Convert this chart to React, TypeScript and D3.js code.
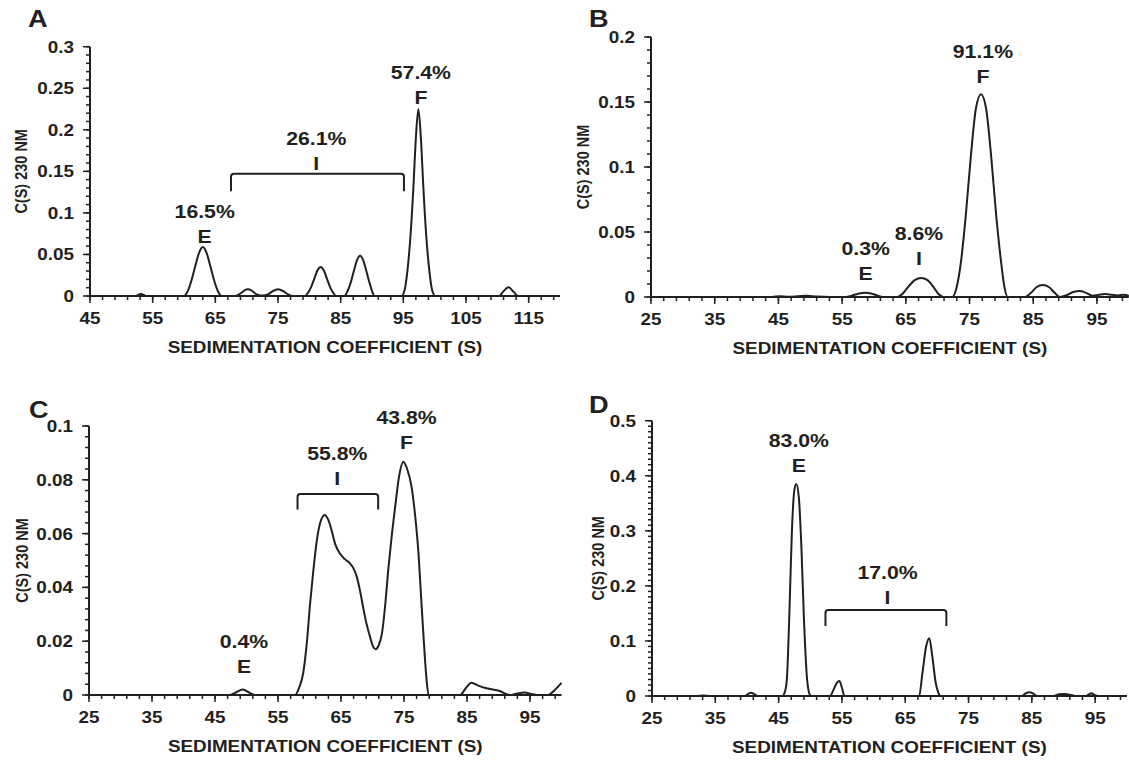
import React from "react";
import * as d3 from "d3";

// c(s) distributions, [s, c(s)] pairs
const curveA: [number, number][] = [
  [45, 0], [52.3, 0], [53.1, 0.0025], [54, 0], [60.0, 0], [60.6, 0.006], [61.2, 0.019], [61.8, 0.036],
  [62.4, 0.052], [63.0, 0.059], [63.6, 0.052], [64.2, 0.036], [64.8, 0.019], [65.4, 0.006], [66.0, 0],
  [68.2, 0], [69.0, 0.003], [69.6, 0.0065], [70.2, 0.008], [70.8, 0.0065], [71.6, 0.002], [72.6, 0.0005],
  [73.4, 0.002], [74.2, 0.006], [75.0, 0.008], [75.8, 0.006], [76.6, 0.002], [77.3, 0], [79.3, 0],
  [79.8, 0.004], [80.3, 0.011], [80.8, 0.021], [81.3, 0.031], [81.8, 0.035], [82.3, 0.031], [82.8, 0.021],
  [83.3, 0.011], [83.8, 0.004], [84.3, 0], [85.6, 0], [86.1, 0.006], [86.6, 0.016], [87.1, 0.03],
  [87.6, 0.043], [88.1, 0.0485], [88.6, 0.043], [89.1, 0.03], [89.6, 0.016], [90.0, 0.006], [90.4, 0],
  [94.7, 0], [95.2, 0.007], [95.6, 0.027], [96.1, 0.068], [96.6, 0.13], [97.0, 0.19], [97.4, 0.225],
  [97.8, 0.19], [98.2, 0.13], [98.7, 0.068], [99.2, 0.027], [99.6, 0.007], [100.1, 0], [110.3, 0],
  [110.9, 0.005], [111.8, 0.0105], [112.6, 0.005], [113.3, 0], [120, 0],
];

const curveB: [number, number][] = [
  [25, 0], [44, 0], [45.2, 0.0006], [46.5, 0.0002], [48, 0.0005], [49.4, 0.0009], [51, 0.0003], [53, 0],
  [55.6, 0], [56.5, 0.001], [57.5, 0.0025], [58.6, 0.0033], [59.7, 0.0025], [60.6, 0.001], [61.4, 0],
  [63.7, 0], [64.5, 0.0025], [65.4, 0.008], [66.4, 0.013], [67.4, 0.0147], [68.4, 0.013], [69.3, 0.008],
  [70.1, 0.0025], [70.9, 0], [72.3, 0], [72.9, 0.006], [73.6, 0.025], [74.4, 0.062], [75.2, 0.108],
  [76.0, 0.145], [76.8, 0.156], [77.6, 0.145], [78.4, 0.108], [79.2, 0.062], [80.0, 0.025], [80.5, 0.007],
  [81.0, 0], [83.6, 0], [84.6, 0.003], [85.5, 0.0075], [86.5, 0.0092], [87.5, 0.0075], [88.4, 0.003],
  [89.2, 0], [90.3, 0.0015], [91.3, 0.0038], [92.3, 0.0046], [93.3, 0.0032], [94.3, 0.001], [95.2, 0.0016],
  [96.3, 0.0023], [97.3, 0.0017], [98.3, 0.0012], [99.2, 0.0018], [100, 0.001],
];

const curveC: [number, number][] = [
  [25, 0], [47.3, 0], [48.2, 0.0008], [49.4, 0.002], [50.5, 0.0008], [51.4, 0], [57.7, 0], [58.4, 0.003],
  [59.0, 0.0081], [59.6, 0.02], [60.1, 0.0341], [60.6, 0.046], [61.1, 0.0564], [61.7, 0.064], [62.4, 0.0669],
  [63.0, 0.065], [63.5, 0.0613], [64.1, 0.056], [64.8, 0.0527], [65.6, 0.0505], [66.4, 0.049], [67.0, 0.047],
  [67.5, 0.044], [68.0, 0.039], [68.5, 0.0328], [69.0, 0.027], [69.6, 0.0217], [70.1, 0.018], [70.5, 0.017],
  [71.0, 0.0185], [71.5, 0.0229], [72.0, 0.033], [72.5, 0.0465], [73.0, 0.058], [73.6, 0.07], [74.2, 0.081],
  [74.9, 0.0867], [75.5, 0.084], [76.2, 0.0774], [76.8, 0.066], [77.3, 0.0527], [77.7, 0.037], [78.1, 0.0217],
  [78.5, 0.008], [78.9, 0], [83.9, 0], [84.8, 0.0025], [85.7, 0.0046], [86.8, 0.0035], [88.1, 0.0025],
  [90.2, 0.0015], [91.8, 0], [93.0, 0.0006], [94.2, 0.0009], [95.2, 0.0004], [96.1, 0], [97.9, 0],
  [98.9, 0.0018], [100, 0.0045],
];

const curveD: [number, number][] = [
  [25, 0], [32, 0], [33.1, 0.001], [34.2, 0], [39.7, 0], [40.2, 0.004], [40.6, 0.006], [41.1, 0.004],
  [41.7, 0], [45.6, 0], [46.0, 0.008], [46.3, 0.03], [46.7, 0.15], [47.1, 0.3], [47.5, 0.375], [47.8, 0.385],
  [48.2, 0.36], [48.6, 0.27], [49.0, 0.14], [49.5, 0.03], [49.9, 0.003], [50.1, 0], [53.1, 0], [53.7, 0.012],
  [54.2, 0.024], [54.6, 0.0272], [55.0, 0.015], [55.4, 0], [67.2, 0], [67.7, 0.04], [68.3, 0.09],
  [68.8, 0.105], [69.3, 0.07], [69.8, 0.025], [70.2, 0.007], [70.6, 0], [83.4, 0], [84.0, 0.0045],
  [84.6, 0.0067], [85.2, 0.0045], [85.8, 0], [88.4, 0], [89.3, 0.003], [90.2, 0.0036], [91.2, 0.002],
  [92.1, 0], [93.6, 0], [94.0, 0.003], [94.4, 0.005], [94.9, 0.002], [95.4, 0], [100, 0],
];

// peak annotations: percentage over species letter (s, c of the letter baseline)
type Note = { pct: string; letter: string; s: number; c: number };
const notesA: Note[] = [
  { pct: "57.4%", letter: "F", s: 97.8, c: 0.231 },
  { pct: "26.1%", letter: "I", s: 81.1, c: 0.1516 },
  { pct: "16.5%", letter: "E", s: 63.3, c: 0.0638 },
];
const notesB: Note[] = [
  { pct: "91.1%", letter: "F", s: 77.1, c: 0.1646 },
  { pct: "8.6%", letter: "I", s: 67.05, c: 0.0246 },
  { pct: "0.3%", letter: "E", s: 58.7, c: 0.0131 },
];
const notesC: Note[] = [
  { pct: "43.8%", letter: "F", s: 75.4, c: 0.0914 },
  { pct: "55.8%", letter: "I", s: 64.4, c: 0.0781 },
  { pct: "0.4%", letter: "E", s: 49.6, c: 0.0082 },
];
const notesD: Note[] = [
  { pct: "83.0%", letter: "E", s: 48.2, c: 0.4074 },
  { pct: "17.0%", letter: "I", s: 62.2, c: 0.1665 },
];

type Bracket = { from: number; to: number; top: number; bottom: number };
const bracketA: Bracket = { from: 67.5, to: 95.1, top: 0.147, bottom: 0.126 };
const bracketC: Bracket = { from: 58.1, to: 70.9, top: 0.0747, bottom: 0.069 };
const bracketD: Bracket = { from: 52.4, to: 71.5, top: 0.1562, bottom: 0.1271 };

const xTicksA = [45, 55, 65, 75, 85, 95, 105, 115];
const xTicksBCD = [25, 35, 45, 55, 65, 75, 85, 95];
const yTicksA = [0, 0.05, 0.1, 0.15, 0.2, 0.25, 0.3];
const yTicksB = [0, 0.05, 0.1, 0.15, 0.2];
const yTicksC = [0, 0.02, 0.04, 0.06, 0.08, 0.1];
const yTicksD = [0, 0.1, 0.2, 0.3, 0.4, 0.5];

const INK = "#231f20";
const FONT = "'Liberation Sans', Arial, Helvetica, sans-serif";
const SX = 1.18; // the figure's lettering is a little wide

function T({ x, y, size, anchor = "middle", rot = false, children }: any) {
  const tr = `translate(${x},${y}) scale(${SX},1)${rot ? " rotate(-90)" : ""}`;
  return (
    <text transform={tr} textAnchor={anchor} fontSize={size} fontWeight="bold" fontFamily={FONT} fill={INK}>
      {children}
    </text>
  );
}

function Panel(props: any) {
  const { label, labelPos, box, xDomain, xTicks, yTicks, yMinor, curve, notes, bracket, yTitleOff } = props;
  const x = d3.scaleLinear().domain(xDomain).range([box.left, box.right]);
  const y = d3.scaleLinear().domain([0, yTicks[yTicks.length - 1]]).range([box.bottom, box.top]);
  const line = d3.line<[number, number]>().x((d) => x(d[0])).y((d) => y(d[1])).curve(d3.curveMonotoneX);
  const xMinor = d3.range(xDomain[0], xDomain[1], 2);
  const yMinorTicks = d3.range(0, yTicks[yTicks.length - 1] + yMinor / 2, yMinor);

  let bracketPath = "";
  if (bracket) {
    const x1 = x(bracket.from), x2 = x(bracket.to), yt = y(bracket.top), yb = y(bracket.bottom), r = 3;
    bracketPath = `M${x1},${yb}L${x1},${yt + r}Q${x1},${yt} ${x1 + r},${yt}L${x2 - r},${yt}Q${x2},${yt} ${x2},${yt + r}L${x2},${yb}`;
  }

  return (
    <g>
      <T x={labelPos[0]} y={labelPos[1]} size={23} anchor="start">{label}</T>
      {/* minor ticks */}
      {yMinorTicks.map((v: number, i: number) => (
        <line key={"ym" + i} x1={box.left - 4} x2={box.left} y1={y(v)} y2={y(v)} stroke={INK} strokeWidth={1.5} />
      ))}
      {xMinor.map((v: number, i: number) => (
        <line key={"xm" + i} x1={x(v)} x2={x(v)} y1={box.bottom} y2={box.bottom + 4} stroke={INK} strokeWidth={1.5} />
      ))}
      {/* major ticks + labels */}
      {yTicks.map((v: number) => (
        <g key={"y" + v}>
          <line x1={box.left - 7} x2={box.left} y1={y(v)} y2={y(v)} stroke={INK} strokeWidth={1.5} />
          <T x={box.left - 16} y={y(v) + 6} size={16} anchor="end">{String(v)}</T>
        </g>
      ))}
      {xTicks.map((v: number) => (
        <g key={"x" + v}>
          <line x1={x(v)} x2={x(v)} y1={box.bottom} y2={box.bottom + 7} stroke={INK} strokeWidth={1.5} />
          <T x={x(v)} y={box.bottom + 28} size={16}>{String(v)}</T>
        </g>
      ))}
      <line x1={box.left} x2={box.left} y1={box.top} y2={box.bottom} stroke={INK} strokeWidth={2} />
      <line x1={box.left} x2={box.right} y1={box.bottom} y2={box.bottom} stroke={INK} strokeWidth={2} />
      <T x={(box.left + box.right) / 2} y={box.bottom + 57} size={16}>SEDIMENTATION COEFFICIENT (S)</T>
      <T x={box.left - yTitleOff} y={(box.top + box.bottom) / 2} size={14.5} rot>
        <tspan y={5}>C(S) 230 NM</tspan>
      </T>
      <path d={line(curve) || ""} fill="none" stroke={INK} strokeWidth={2} strokeLinejoin="round" />
      {bracket && <path d={bracketPath} fill="none" stroke={INK} strokeWidth={2} />}
      {notes.map((n: Note) => (
        <g key={n.pct}>
          <T x={x(n.s)} y={y(n.c) - 25} size={18}>{n.pct}</T>
          <T x={x(n.s)} y={y(n.c)} size={18}>{n.letter}</T>
        </g>
      ))}
    </g>
  );
}

export default function App() {
  return (
    <svg width={1129} height={762} style={{ position: "absolute", left: 0, top: 0, background: "#fff" }}>
      <Panel label="A" labelPos={[28, 27]} box={{ left: 90, right: 560, top: 46.7, bottom: 296 }}
        xDomain={[45, 120]} xTicks={xTicksA} yTicks={yTicksA} yMinor={0.01}
        curve={curveA} notes={notesA} bracket={bracketA} yTitleOff={69} />
      <Panel label="B" labelPos={[589, 27]} box={{ left: 651, right: 1128.8, top: 37, bottom: 297 }}
        xDomain={[25, 100]} xTicks={xTicksBCD} yTicks={yTicksB} yMinor={0.01}
        curve={curveB} notes={notesB} bracket={null} yTitleOff={68} />
      <Panel label="C" labelPos={[29, 418]} box={{ left: 89, right: 561.5, top: 426, bottom: 695 }}
        xDomain={[25, 100]} xTicks={xTicksBCD} yTicks={yTicksC} yMinor={0.004}
        curve={curveC} notes={notesC} bracket={bracketC} yTitleOff={67} />
      <Panel label="D" labelPos={[589, 413]} box={{ left: 652, right: 1126.8, top: 420.7, bottom: 696 }}
        xDomain={[25, 100]} xTicks={xTicksBCD} yTicks={yTicksD} yMinor={0.01}
        curve={curveD} notes={notesD} bracket={bracketD} yTitleOff={54} />
    </svg>
  );
}
